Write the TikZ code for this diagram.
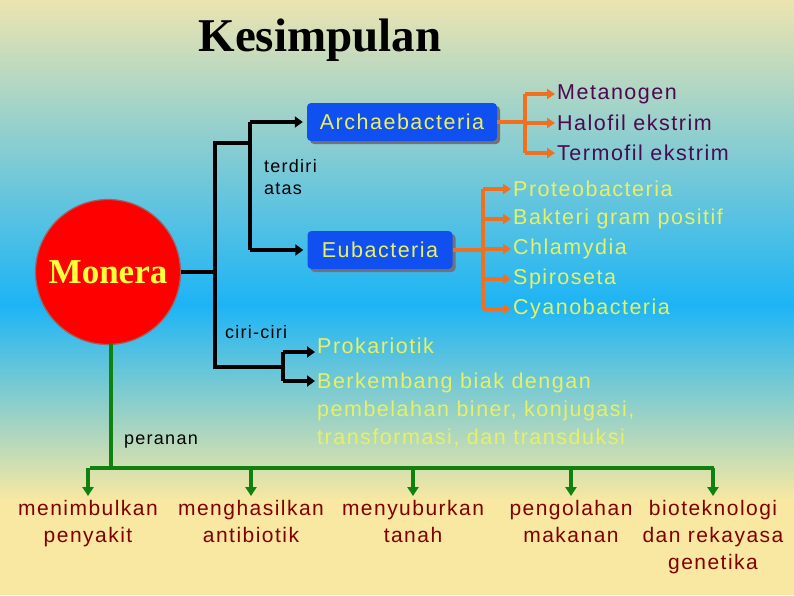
\documentclass[tikz,border=0pt]{standalone}
\usepackage{fontspec}
\setmainfont{Liberation Sans}[LetterSpace=7]
\newfontfamily\serifft{Liberation Serif}
\usetikzlibrary{arrows.meta,shadows}
\definecolor{bgbeige}{RGB}{236,228,176}
\definecolor{bgblue}{RGB}{28,180,246}
\definecolor{bgbottom}{RGB}{248,232,162}
\definecolor{boxblue}{RGB}{16,80,240}
\definecolor{ltyellow}{RGB}{232,240,100}
\definecolor{darkpurple}{RGB}{75,10,80}
\definecolor{orangeln}{RGB}{240,112,32}
\definecolor{greenln}{RGB}{16,128,16}
\definecolor{darkred}{RGB}{128,0,0}
\definecolor{monyellow}{RGB}{255,255,60}
\tikzset{
  blk/.style={line width=4pt, black, line join=miter},
  blkarrow/.style={blk, -{Triangle[length=8pt,width=11pt]}},
  org/.style={line width=4pt, orangeln, line join=miter},
  orgarrow/.style={org, -{Triangle[length=8pt,width=10pt]}},
  grn/.style={line width=4pt, greenln, line join=miter},
  grnarrow/.style={grn, -{Triangle[length=9pt,width=11pt]}},
  bluebox/.style={rounded corners=4pt, fill=boxblue, text=ltyellow, minimum height=38pt,
     font=\fontsize{21.5}{26}\selectfont,
     drop shadow={shadow xshift=3pt, shadow yshift=-3pt, fill=gray!90!black, opacity=1}},
  lbl/.style={font=\fontsize{18}{22}\selectfont, text=black, inner sep=0pt},
  purp/.style={font=\fontsize{21.5}{26}\selectfont, text=darkpurple, anchor=west, inner sep=2pt},
  yel/.style={font=\fontsize{21.5}{26}\selectfont, text=ltyellow, anchor=west, inner sep=2pt},
  role/.style={font=\fontsize{21}{27}\selectfont, text=darkred, anchor=north, align=center, inner sep=1pt},
}
\begin{document}
\begin{tikzpicture}[x=1pt,y=-1pt]
\useasboundingbox (0,0) rectangle (794,595);
% background
\shade[top color=bgbeige, bottom color=bgblue] (0,0) rectangle (794,305);
\shade[top color=bgblue, bottom color=bgbottom] (0,304) rectangle (794,500);
\fill[bgbottom] (0,499) rectangle (794,595);

% title
\node (title) at (320,40) {\serifft\bfseries\fontsize{47}{50}\selectfont Kesimpulan};

% Monera
\node[circle, fill=red, draw=gray!80!red, line width=1.2pt, minimum size=145pt, inner sep=0pt] (mon) at (108,272)
  {\serifft\bfseries\fontsize{35}{38}\selectfont\color{monyellow}Monera};

% boxes
\node[bluebox, minimum width=190pt] (arch) at (402,122) {Archaebacteria};
\node[bluebox, minimum width=145pt] (eub) at (380,250) {Eubacteria};

% labels
\node[lbl, anchor=north west, align=left] (terdiri) at (264,159) {terdiri\\atas};
\node[lbl, anchor=west] (ciri) at (225,332) {ciri-ciri};
\node[lbl, anchor=west] (peranan) at (124,442) {peranan};

% black connectors
\coordinate (bTop) at (215,143);
\coordinate (bBot) at (215,367);
\coordinate (sTop) at (250,143);
\coordinate (aUp) at (250,122);
\coordinate (aDn) at (250,250);
\draw[blk] (mon.east) -- (mon.east -| bTop);
\draw[blk] (sTop) -- (bTop) -- (bBot) -- (283,367);
\draw[blk] (aUp) -- (aDn);
\draw[blkarrow, shorten >=4pt] (aUp) -- (arch.west);
\draw[blkarrow, shorten >=4pt] (aDn) -- (eub.west);

% characteristics
\node[yel] (prok) at (315,346) {Prokariotik};
\node[font=\fontsize{21.5}{28}\selectfont, text=ltyellow, anchor=north west, align=left, inner sep=2pt] (berk) at (315,371)
  {Berkembang biak dengan\\pembelahan biner, konjugasi,\\transformasi, dan transduksi};
\coordinate (cUp) at (283,352);
\coordinate (cDn) at (283,381);
\draw[blk] (cUp) -- (cDn);
\draw[blkarrow] (cUp) -- (prok.west |- cUp);
\draw[blkarrow] (cDn) -- (berk.west |- cDn);

% archaebacteria branches
\node[purp] (met) at (555,94) {Metanogen};
\node[purp] (hal) at (555,123) {Halofil ekstrim};
\node[purp] (ter) at (555,153) {Termofil ekstrim};
\coordinate (oA) at (525,122);
\draw[org] (arch.east) -- (oA);
\draw[org] (met.west -| oA) -- (ter.west -| oA);
\draw[orgarrow] (met.west -| oA) -- (met.west);
\draw[orgarrow] (hal.west -| oA) -- (hal.west);
\draw[orgarrow] (ter.west -| oA) -- (ter.west);

% eubacteria branches
\node[yel] (pro) at (511,189) {Proteobacteria};
\node[yel] (bak) at (511,219) {Bakteri gram positif};
\node[yel] (chl) at (511,249) {Chlamydia};
\node[yel] (spi) at (511,279) {Spiroseta};
\node[yel] (cya) at (511,309) {Cyanobacteria};
\coordinate (oE) at (483,250);
\draw[org] (eub.east) -- (oE);
\draw[org] (pro.west -| oE) -- (cya.west -| oE);
\foreach \n in {pro,bak,chl,spi,cya}
  \draw[orgarrow] (\n.west -| oE) -- (\n.west);

% roles
\node[role] (r1) at (88,499) {menimbulkan\\penyakit};
\node[role] (r2) at (251,499) {menghasilkan\\antibiotik};
\node[role] (r3) at (413,499) {menyuburkan\\tanah};
\node[role] (r4) at (571,499) {pengolahan\\makanan};
\node[role] (r5) at (713,499) {bioteknologi\\dan rekayasa\\genetika};
\coordinate (gTop) at (111,344);
\coordinate (gMid) at (111,468);
\coordinate (gL) at (90,468);
\coordinate (gR) at (714,468);
\draw[grn] (gTop) -- (gMid);
\draw[grn] (gL) -- (gR);
\foreach \n in {r1,r2,r3,r4,r5}
  \draw[grnarrow, shorten >=3pt] (\n.north |- gL) -- (\n.north);
\end{tikzpicture}
\end{document}
